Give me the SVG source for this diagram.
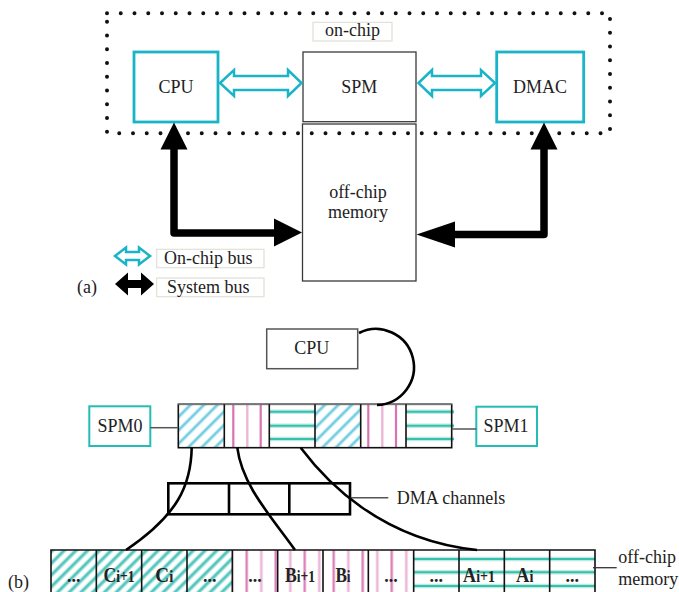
<svg xmlns="http://www.w3.org/2000/svg" width="679" height="592" viewBox="0 0 679 592">
  <style>
    text { font-family: "Liberation Serif", "Times New Roman", serif; fill: #222; font-size: 18px; }
    .mid { text-anchor: middle; }
    .bt { font-weight: bold; }
    .cyanbox { fill: #fff; stroke: #19b4c7; stroke-width: 2.8; }
    .bus { fill: #fff; stroke: #19b4c7; stroke-width: 2.5; stroke-linejoin: miter; }
    .plain { fill: #fff; stroke: #3a3a3a; stroke-width: 1.3; }
    .tag { fill: #fff; stroke: #e0e0d6; stroke-width: 1.2; }
    .frame { fill: none; stroke: #111; stroke-width: 4; stroke-linecap: round; stroke-dasharray: 0 13.75; }
    .sys { fill: none; stroke: #000; stroke-width: 7.5; stroke-linejoin: round; stroke-linecap: round; }
    .head { fill: #000; }
    .curve { fill: none; stroke: #000; stroke-width: 2.6; }
    .thin { stroke: #555; stroke-width: 1.5; }
    .teal { fill: #fff; stroke: #22bdb4; stroke-width: 2; }
    .grid { fill: none; stroke: #111; stroke-width: 1.6; }
    .dma { fill: none; stroke: #000; stroke-width: 2.6; }
    .pk { stroke: #d873b2; stroke-width: 2.2; }
    .pkl { stroke: #ecb8d6; stroke-width: 2.4; }
    .hzl { stroke: #bfeae2; stroke-width: 4.5; }
    .hz { stroke: #35c1ae; stroke-width: 2; }
    .big { font-size: 22px; }
    .sub { font-size: 17px; }
  </style>
  <defs>
    <!-- light blue diagonal hatch for scratchpad buffers -->
    <pattern id="diagBlue" patternUnits="userSpaceOnUse" width="9.5" height="20" patternTransform="rotate(45)">
      <rect width="9.5" height="20" fill="#fff"/>
      <line x1="3" y1="0" x2="3" y2="20" stroke="#c6ecf4" stroke-width="4"/>
      <line x1="3" y1="0" x2="3" y2="20" stroke="#70cbe0" stroke-width="2"/>
    </pattern>
    <!-- teal diagonal hatch for the C blocks in memory -->
    <pattern id="diagTeal" patternUnits="userSpaceOnUse" width="8.3" height="20" patternTransform="rotate(45)">
      <rect width="8.3" height="20" fill="#fff"/>
      <line x1="3" y1="0" x2="3" y2="20" stroke="#bde9e5" stroke-width="4.5"/>
      <line x1="3" y1="0" x2="3" y2="20" stroke="#52c5bc" stroke-width="2.4"/>
    </pattern>
    <!-- pink vertical stripes for the B blocks in memory -->
    <pattern id="pinkV" patternUnits="userSpaceOnUse" x="232.33" y="0" width="29" height="20">
      <rect width="29" height="20" fill="#fff"/>
      <line x1="14.4" y1="0" x2="14.4" y2="20" class="pk"/>
      <line x1="28.9" y1="0" x2="28.9" y2="20" class="pkl"/>
      <line x1="0.1" y1="0" x2="0.1" y2="20" class="pkl"/>
    </pattern>
  </defs>

  <!-- ===== (a) system overview ===== -->
  <g id="a-onchip-label">
    <rect class="tag" x="313" y="22.3" width="79" height="18.7"/>
    <text class="mid" x="352.5" y="36">on-chip</text>
  </g>
  <g id="a-cpu">
    <rect class="cyanbox" x="134" y="52" width="84" height="70"/>
    <text class="mid" x="176" y="93">CPU</text>
  </g>
  <g id="a-spm">
    <rect class="plain" x="303" y="52" width="113" height="69.7"/>
    <text class="mid" x="359.3" y="93">SPM</text>
  </g>
  <g id="a-dmac">
    <rect class="cyanbox" x="496.7" y="52" width="87" height="70"/>
    <text class="mid" x="540" y="93">DMAC</text>
  </g>
  <g id="a-offchip">
    <rect class="plain" x="302.5" y="124" width="113.5" height="157"/>
    <text class="mid" x="358" y="198">off-chip</text>
    <text class="mid" x="358" y="218">memory</text>
  </g>

  <!-- on-chip boundary -->
  <rect id="a-onchip-boundary" class="frame" x="107" y="13.3" width="503" height="120"/>

  <g id="a-connectors">
    <!-- on-chip buses -->
    <polygon class="bus" points="220,83 234,70 234,76 288,76 288,70 301.5,83 288,96 288,90 234,90 234,96"/>
    <polygon class="bus" points="418.5,83 432,70 432,76 481,76 481,70 495,83 481,96 481,90 432,90 432,96"/>
    <!-- system buses -->
    <polyline class="sys" points="174,149 174,233 276,233"/>
    <polygon class="head" points="174,122.5 160.5,149.5 187.5,149.5"/>
    <polygon class="head" points="302,232.5 274,218.5 274,246.5"/>
    <polyline class="sys" points="544,149 544,234.5 453,234.5"/>
    <polygon class="head" points="544,122.5 530.5,149.5 557.5,149.5"/>
    <polygon class="head" points="416.5,234.5 455,221.5 455,247.5"/>
  </g>

  <g id="a-legend">
    <polygon class="bus" points="115,256 126,247.5 126,252 139,252 139,247.5 150,256 139,264.5 139,260 126,260 126,264.5"/>
    <rect class="tag" x="156.7" y="249.3" width="107.3" height="18.4"/>
    <text x="164" y="264">On-chip bus</text>
    <polygon class="head" points="115,284 128,272.5 128,280 141,280 141,272.5 154,284 141,295.5 141,288 128,288 128,295.5"/>
    <rect class="tag" x="156.7" y="278" width="107.3" height="18.7"/>
    <text x="167" y="292.5">System bus</text>
    <text x="77" y="292.5">(a)</text>
  </g>

  <!-- ===== (b) double-buffered transfer ===== -->
  <g id="b-cpu">
    <rect x="266.7" y="329" width="91" height="39.7" fill="#fff" stroke="#555" stroke-width="1.5"/>
    <text class="mid" x="311.7" y="354">CPU</text>
  </g>
  <g id="b-spm0">
    <rect class="teal" x="89.3" y="406.3" width="61" height="39.7"/>
    <text class="mid" x="120" y="432">SPM0</text>
  </g>
  <g id="b-spm1">
    <rect class="teal" x="476.3" y="406.7" width="60.7" height="39.3"/>
    <text class="mid" x="506" y="432">SPM1</text>
  </g>

  <g id="b-spm-strip">
    <rect x="178.3" y="404.3" width="45.6" height="43.4" fill="url(#diagBlue)"/>
    <rect x="315" y="404.3" width="45.7" height="43.4" fill="url(#diagBlue)"/>
    <!-- pink cells -->
    <line class="pk" x1="233.3" y1="405" x2="233.3" y2="447"/>
    <line class="pkl" x1="247.3" y1="405" x2="247.3" y2="447"/>
    <line class="pk" x1="260.7" y1="405" x2="260.7" y2="447"/>
    <line class="pk" x1="368.3" y1="405" x2="368.3" y2="447"/>
    <line class="pkl" x1="382.3" y1="405" x2="382.3" y2="447"/>
    <line class="pk" x1="396" y1="405" x2="396" y2="447"/>
    <!-- horizontal teal cells -->
    <line class="hzl" x1="269.3" y1="411.7" x2="315" y2="411.7"/>
    <line class="hzl" x1="269.3" y1="425.7" x2="315" y2="425.7"/>
    <line class="hzl" x1="269.3" y1="439" x2="315" y2="439"/>
    <line class="hz" x1="269.3" y1="411.7" x2="315" y2="411.7"/>
    <line class="hz" x1="269.3" y1="425.7" x2="315" y2="425.7"/>
    <line class="hz" x1="269.3" y1="439" x2="315" y2="439"/>
    <line class="hzl" x1="406" y1="411.7" x2="454" y2="411.7"/>
    <line class="hzl" x1="406" y1="425.7" x2="454" y2="425.7"/>
    <line class="hzl" x1="406" y1="439" x2="454" y2="439"/>
    <line class="hz" x1="406" y1="411.7" x2="454" y2="411.7"/>
    <line class="hz" x1="406" y1="425.7" x2="454" y2="425.7"/>
    <line class="hz" x1="406" y1="439" x2="454" y2="439"/>
    <rect class="grid" x="178.3" y="404.3" width="273.4" height="43.4"/>
    <line x1="178.3" y1="404.3" x2="451.7" y2="404.3" stroke="#777" stroke-width="1.6"/>
    <path class="grid" d="M224.3,404.3V447.7M269.3,404.3V447.7M315,404.3V447.7M360.7,404.3V447.7M406,404.3V447.7"/>
  </g>

  <g id="b-dma">
    <rect class="dma" x="168.3" y="483.3" width="181.7" height="31"/>
    <path class="dma" d="M229,483.3V514.3M289.3,483.3V514.3"/>
    <line class="thin" x1="350" y1="497.7" x2="388.3" y2="497.7"/>
    <text x="396.7" y="503.5">DMA channels</text>
  </g>

  <g id="b-offchip">
    <rect x="51" y="550" width="181.33" height="50" fill="url(#diagTeal)"/>
    <rect x="232.33" y="550" width="181.34" height="50" fill="url(#pinkV)"/>
    <rect x="413.67" y="550" width="181.33" height="50" fill="#fff"/>
    <line class="hzl" x1="413.67" y1="559" x2="595" y2="559"/>
    <line class="hzl" x1="413.67" y1="572.3" x2="595" y2="572.3"/>
    <line class="hzl" x1="413.67" y1="586" x2="595" y2="586"/>
    <line class="hz" x1="413.67" y1="559" x2="595" y2="559"/>
    <line class="hz" x1="413.67" y1="572.3" x2="595" y2="572.3"/>
    <line class="hz" x1="413.67" y1="586" x2="595" y2="586"/>
    <path class="grid" d="M51,600V550H595V600M96.33,550V600M141.67,550V600M187,550V600M232.33,550V600M277.67,550V600M323,550V600M368.33,550V600M413.67,550V600M459,550V600M504.33,550V600M549.67,550V600"/>
    <!-- block labels, set in a condensed bold face -->
    <text class="mid bt" x="73.7" y="582" font-size="16">...</text>
    <text class="mid bt" transform="translate(119,582) scale(0.8,1)"><tspan class="big">C</tspan><tspan class="sub">i+1</tspan></text>
    <text class="mid bt" transform="translate(164.3,582) scale(0.87,1)"><tspan class="big">C</tspan><tspan class="sub">i</tspan></text>
    <text class="mid bt" x="209.7" y="582" font-size="16">...</text>
    <text class="mid bt" x="255" y="582" font-size="16">...</text>
    <text class="mid bt" transform="translate(300,582) scale(0.8,1)"><tspan class="big">B</tspan><tspan class="sub">i+1</tspan></text>
    <text class="mid bt" transform="translate(343,582) scale(0.78,1)"><tspan class="big">B</tspan><tspan class="sub">i</tspan></text>
    <text class="mid bt" x="391" y="582" font-size="16">...</text>
    <text class="mid bt" x="436.3" y="582" font-size="16">...</text>
    <text class="mid bt" transform="translate(479,582) scale(0.82,1)"><tspan class="big">A</tspan><tspan class="sub">i+1</tspan></text>
    <text class="mid bt" transform="translate(524.7,582) scale(0.84,1)"><tspan class="big">A</tspan><tspan class="sub">i</tspan></text>
    <text class="mid bt" x="572.3" y="582" font-size="16">...</text>
    <line x1="593" y1="567.7" x2="616.7" y2="567.7" stroke="#333" stroke-width="1.3"/>
    <text x="618.3" y="563">off-chip</text>
    <text x="618.3" y="585">memory</text>
    <text x="8" y="588">(b)</text>
  </g>

  <g id="b-connectors">
    <line class="thin" x1="150.3" y1="427.7" x2="178.3" y2="427.7"/>
    <line class="thin" x1="451.7" y1="429" x2="476.3" y2="429"/>
    <path class="curve" d="M359,333 A38,38 0 1 1 377,405"/>
    <path class="curve" d="M191.7,447.7 C191,485 178,515 126,550"/>
    <path class="curve" d="M237.3,447.7 C242,485 270,515 295,550"/>
    <path class="curve" d="M300.7,447.7 C325,480 380,540 477,550"/>
  </g>
</svg>
